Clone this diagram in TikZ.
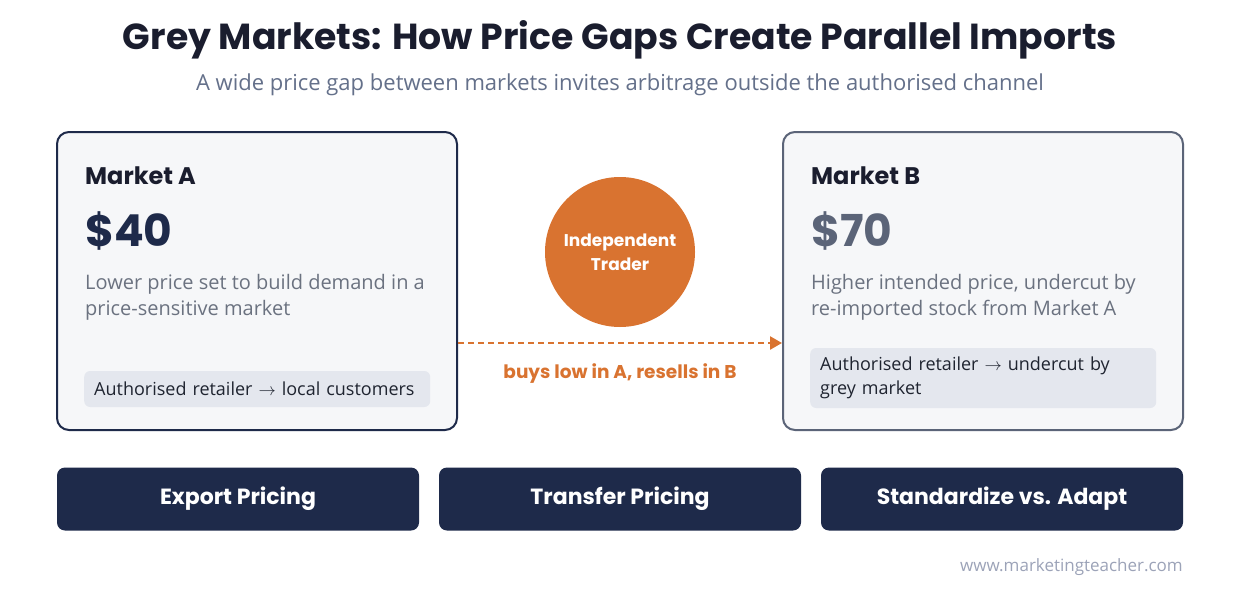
\documentclass[tikz,border=0pt]{standalone}
\usepackage{fontspec}
\setmainfont{Open Sans}
\newfontfamily\headfont{Poppins}
\usetikzlibrary{arrows.meta}
\definecolor{ink}{HTML}{1A1D2E}
\definecolor{subgrey}{HTML}{64708A}
\definecolor{navy}{HTML}{1E2A4A}
\definecolor{slate}{HTML}{5B6478}
\definecolor{cardbg}{HTML}{F6F7F9}
\definecolor{tagbg}{HTML}{E4E7EE}
\definecolor{trader}{HTML}{D97330}
\definecolor{bodygrey}{HTML}{6B7280}
\definecolor{tagtext}{HTML}{1F2430}
\definecolor{footgrey}{HTML}{9CA3B8}
\tikzstyle{card}=[draw, line width=2pt, rounded corners=12pt,
                  fill=cardbg, minimum width=400pt,
                  minimum height=298pt, inner sep=0pt]
\tikzstyle{tagbox}=[fill=tagbg, rounded corners=6pt, align=left,
                    inner xsep=10pt, inner ysep=0pt, text=tagtext,
                    font=\fontsize{18}{24}\selectfont]
\tikzstyle{heading}=[anchor=base west, inner sep=0pt, text=ink,
                     font=\headfont\bfseries\fontsize{24}{28}\selectfont]
\tikzstyle{price}=[anchor=base west, inner sep=0pt,
                   font=\headfont\bfseries\fontsize{44}{50}\selectfont]
\tikzstyle{desc}=[anchor=base west, inner sep=0pt, align=left,
                  text=bodygrey, font=\fontsize{20}{26}\selectfont]
\tikzstyle{btn}=[fill=navy, rounded corners=8pt, minimum width=362pt,
                 minimum height=63pt, text=white,
                 font=\headfont\bfseries\fontsize{22}{26}\selectfont]
\tikzstyle{flow}=[trader, line width=2.5pt, dash pattern=on 6pt off 4pt,
                  -{Triangle[length=12pt,width=13pt]}]

\begin{document}
\begin{tikzpicture}[x=1pt,y=-1pt]
  \useasboundingbox[fill=white] (0,0) rectangle (1240,594);

  % title
  \node (title) at (620,50) [anchor=base, inner sep=0pt, text=ink,
    font=\headfont\bfseries\fontsize{36.2}{40}\selectfont]
    {Grey Markets: How Price Gaps Create Parallel Imports};
  \node (subtitle) at (620,90) [anchor=base, inner sep=0pt, text=subgrey,
    font=\fontsize{22}{26}\selectfont]
    {A wide price gap between markets invites arbitrage outside the authorised channel};

  % the two markets
  \node (mA) at (257,281) [card, draw=navy]{};
  \node (mB) at (983,281) [card, draw=slate]{};

  \node (nameA) at (85,184) [heading]{Market A};
  \node (nameB) at (811,184) [heading]{Market B};
  \node (priceA) at (85,246) [price, text=navy]{\$40};
  \node (priceB) at (811,246) [price, text=slate]{\$70};
  % base = last line here
  \node (descA) at (85,315) [desc]
    {Lower price set to build demand in a\\price-sensitive market};
  \node (descB) at (811,315) [desc]
    {Higher intended price, undercut by\\re-imported stock from Market A};

  \node (tagA) at (84,389) [tagbox, anchor=west, minimum height=36pt,
    text width=326pt]{Authorised retailer $\rightarrow$ local customers};
  \node (tagB) at (810,378) [tagbox, anchor=west, minimum height=60pt,
    text width=326pt]{Authorised retailer $\rightarrow$ undercut by\\grey market};

  % trader and flow
  \node (trader) at (620,252) [circle, fill=trader, minimum size=150pt,
    inner sep=0pt, text=white, align=center,
    font=\headfont\bfseries\fontsize{17}{24}\selectfont]
    {Independent\\Trader};
  \coordinate (fromA) at (mA.east |- 0,343);
  \coordinate (toB) at (mB.west |- 0,343);
  \draw [flow] (fromA) -- (toB);
  \node (buys) at (620,378) [anchor=base, inner sep=0pt, text=trader,
    font=\headfont\bfseries\fontsize{18.5}{22}\selectfont]
    {buys low in A, resells in B};

  % related topics
  \foreach \n/\x/\t in {exp/238/Export Pricing,
                        trf/620/Transfer Pricing,
                        std/1002/Standardize vs. Adapt}
    \node (\n) at (\x,499) [btn]{\t};

  \node (site) at (1183,571) [anchor=base east, inner sep=0pt,
    text=footgrey, font=\fontsize{17}{20}\selectfont]
    {www.marketingteacher.com};
\end{tikzpicture}
\end{document}
